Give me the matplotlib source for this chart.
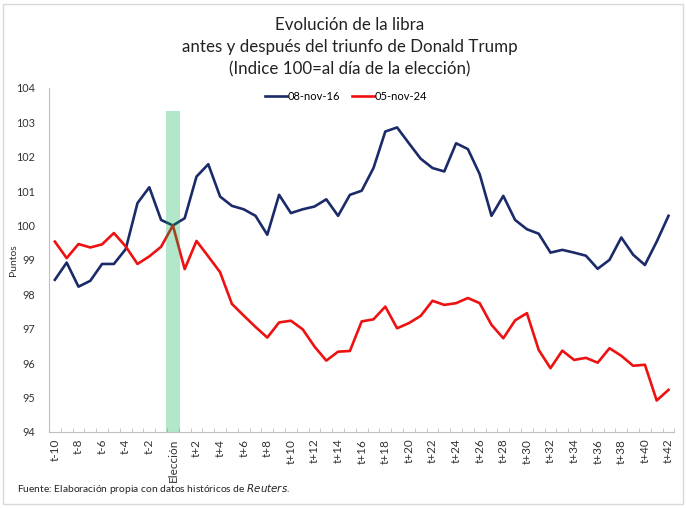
import numpy as np
import matplotlib.pyplot as plt
from matplotlib.patches import Rectangle

plt.rcParams['font.family'] = ['Lato', 'DejaVu Sans']

# t-10 ... t+42, election day at t0
periods = list(range(-10, 43))
tick_labels = ['Elección' if t == 0 else (f't+{t}' if t > 0 else f't{t}') for t in periods]

serie_2016 = [98.42, 98.92, 98.22, 98.39, 98.88, 98.88, 99.31, 100.65, 101.11, 100.16,
              100.0,
              100.21, 101.42, 101.78, 100.84, 100.57, 100.47, 100.28, 99.73,
              100.89, 100.36, 100.47, 100.55, 100.76, 100.28, 100.89, 101.01,
              101.67, 102.73, 102.85, 102.39, 101.94, 101.67, 101.57, 102.39, 102.22,
              101.49, 100.28, 100.86, 100.16, 99.89, 99.76, 99.21, 99.29, 99.21, 99.12,
              98.74, 99.00, 99.65, 99.15, 98.85, 99.53, 100.28]
serie_2024 = [99.53, 99.05, 99.46, 99.36, 99.45, 99.78, 99.39, 98.88, 99.10, 99.38,
              100.0,
              98.73, 99.55, 99.10, 98.64, 97.72, 97.38, 97.05, 96.74,
              97.18, 97.23, 96.98, 96.48, 96.07, 96.33, 96.35, 97.21,
              97.27, 97.64, 97.01, 97.16, 97.37, 97.81, 97.69, 97.74, 97.89,
              97.74, 97.11, 96.72, 97.24, 97.45, 96.38, 95.85, 96.36, 96.09, 96.15,
              96.01, 96.43, 96.21, 95.92, 95.95, 94.91, 95.22]

x = np.arange(len(periods))
elec = periods.index(0)

fig = plt.figure(figsize=(6.86, 5.08), dpi=100)
ax = fig.add_axes([0.0714, 0.150, 0.9117, 0.677])

ax.plot(x, serie_2016, color='#1b2a68', lw=1.9, label='08-nov-16', solid_joinstyle='round')
ax.plot(x, serie_2024, color='#ee1111', lw=1.9, label='05-nov-24', solid_joinstyle='round')

# election band
ax.fill_between([elec - 0.62, elec + 0.62], 94, 103.33, color='#00b050', alpha=0.3, lw=0, zorder=3)

ax.set_xlim(-0.5, len(periods) - 0.5)
ax.set_ylim(94, 104)
ax.set_yticks(range(94, 105))
ax.tick_params(axis='y', length=0, labelsize=7.8, pad=10, colors='#333333')

ax.set_xticks(x[::2])
ax.set_xticklabels(tick_labels[::2], rotation=90, fontsize=8.5, color='#333333')
ax.set_xticks(np.arange(-0.5, len(periods)), minor=True)
ax.tick_params(axis='x', which='major', length=0, pad=5)
ax.tick_params(axis='x', which='minor', length=3, direction='in', color='#bfbfbf')

for s in ['top', 'right']:
    ax.spines[s].set_visible(False)
ax.spines['left'].set_color('#bfbfbf')
ax.spines['bottom'].set_color('#bfbfbf')

ax.set_ylabel('Puntos', fontsize=7.5, color='#333333', labelpad=2)
ax.yaxis.set_label_coords(-0.05, 0.5)

fig.text(0.51, 0.966, 'Evolución de la libra\nantes y después del triunfo de Donald Trump\n(Indice 100=al día de la elección)',
         ha='center', va='top', fontsize=12.2, linespacing=1.47, color='#222222')

ax.legend(loc='upper center', bbox_to_anchor=(0.475, 1.02), ncol=2, frameon=False,
          fontsize=8, handlelength=2.0, handletextpad=0.1, columnspacing=1.0)

fig.text(0.025, 0.037, 'Fuente: Elaboración propia con datos históricos de $\\it{Reuters}$.',
         fontsize=7.4, color='#222222', va='center')

fig.patches.append(Rectangle((0.005, 0.008), 0.99, 0.984, transform=fig.transFigure,
                             fill=False, edgecolor='#d9d9d9', lw=1))

fig.savefig('out.png', dpi=100)
